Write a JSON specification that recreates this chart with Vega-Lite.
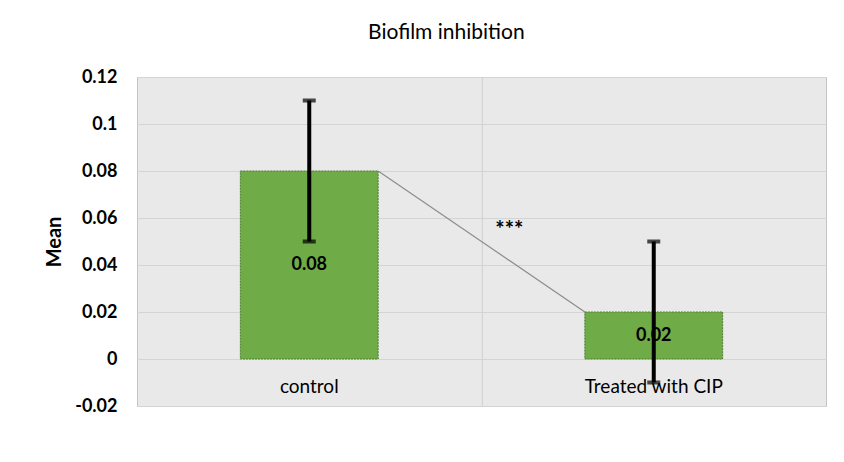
{
  "$schema": "https://vega.github.io/schema/vega-lite/v6.json",
  "autosize": {"type": "none"},
  "padding": {"left": 137, "top": 77, "right": 18, "bottom": 56},
  "width": 689,
  "height": 329,
  "background": "white",
  "title": {
    "text": "Biofilm inhibition",
    "font": "Lato",
    "fontSize": 21,
    "fontWeight": "normal",
    "color": "#000000",
    "anchor": "middle",
    "frame": "bounds",
    "offset": 25,
    "dx": 11
  },
  "config": {
    "view": {"stroke": "#c4c4c4", "strokeWidth": 1, "fill": "#e9e9e9"},
    "axis": {"labelFont": "Lato", "titleFont": "Lato"}
  },
  "datasets": {
    "groups": [
      {"group": "control", "mean": 0.08, "lower": 0.05, "upper": 0.11},
      {"group": "Treated with CIP", "mean": 0.02, "lower": -0.01, "upper": 0.05}
    ],
    "link": [
      {"from": "control", "to": "Treated with CIP", "start": 0.08, "end": 0.02, "sig": "***"}
    ]
  },
  "layer": [
    {
      "data": {"name": "link"},
      "mark": {"type": "rule", "color": "#d0d0d0", "strokeWidth": 1},
      "encoding": {
        "x": {"field": "from", "type": "nominal", "bandPosition": 1.756}
      }
    },
    {
      "data": {"name": "groups"},
      "mark": {"type": "bar", "fill": "#6fab46", "stroke": "#4f7f30", "strokeWidth": 1, "strokeDash": [2, 1]},
      "encoding": {
        "x": {
          "field": "group",
          "type": "nominal",
          "scale": {"domain": ["control", "Treated with CIP"], "paddingInner": 0.6, "paddingOuter": 0.3},
          "axis": {
            "title": null,
            "labelAngle": 0,
            "labelAlign": "center",
            "labelFontSize": 19,
            "labelColor": "#000000",
            "labelPadding": 2,
            "ticks": false,
            "domain": false,
            "grid": false,
            "offset": -22
          }
        },
        "y": {
          "field": "mean",
          "type": "quantitative",
          "scale": {"domain": [-0.02, 0.12], "nice": false, "zero": false},
          "axis": {
            "title": "Mean",
            "titleFontSize": 20,
            "titleFontWeight": "bold",
            "titleColor": "#000000",
            "titlePadding": 10,
            "values": [-0.02, 0, 0.02, 0.04, 0.06, 0.08, 0.1, 0.12],
            "labelExpr": "replace(format(datum.value, '~g'), '\u2212', '-')",
            "labelFontSize": 18,
            "labelFontWeight": "bold",
            "labelColor": "#000000",
            "labelPadding": 20,
            "ticks": false,
            "tickSize": 0,
            "domain": false,
            "grid": true,
            "gridColor": "#d4d4d4",
            "gridWidth": 1
          }
        }
      }
    },
    {
      "data": {"name": "link"},
      "mark": {"type": "rule", "color": "#8c8c8c", "strokeWidth": 1.2},
      "encoding": {
        "x": {"field": "from", "type": "nominal", "bandPosition": 1},
        "x2": {"field": "to", "bandPosition": 0},
        "y": {"field": "start", "type": "quantitative"},
        "y2": {"field": "end"}
      }
    },
    {
      "data": {"name": "link"},
      "mark": {"type": "text", "font": "Lato", "fontSize": 22, "fontWeight": "bold", "color": "#000000", "dy": 5},
      "encoding": {
        "x": {"field": "from", "type": "nominal", "bandPosition": 1.952},
        "y": {"datum": 0.057},
        "text": {"field": "sig"}
      }
    },
    {
      "data": {"name": "groups"},
      "transform": [{"calculate": "datum.mean / 2", "as": "mid"}],
      "mark": {"type": "text", "font": "Lato", "fontSize": 18, "fontWeight": "bold", "color": "#000000"},
      "encoding": {
        "x": {"field": "group", "type": "nominal"},
        "y": {"field": "mid", "type": "quantitative"},
        "text": {"field": "mean", "type": "quantitative", "format": ".2f"}
      }
    },
    {
      "data": {"name": "groups"},
      "mark": {"type": "rule", "color": "#000000", "strokeWidth": 4},
      "encoding": {
        "x": {"field": "group", "type": "nominal"},
        "y": {"field": "lower", "type": "quantitative"},
        "y2": {"field": "upper"}
      }
    },
    {
      "data": {"name": "groups"},
      "mark": {"type": "tick", "color": "#000000", "size": 13, "thickness": 4, "orient": "horizontal"},
      "encoding": {
        "x": {"field": "group", "type": "nominal"},
        "y": {"field": "lower", "type": "quantitative"}
      }
    },
    {
      "data": {"name": "groups"},
      "mark": {"type": "tick", "color": "#000000", "size": 13, "thickness": 4, "orient": "horizontal"},
      "encoding": {
        "x": {"field": "group", "type": "nominal"},
        "y": {"field": "upper", "type": "quantitative"}
      }
    }
  ]
}
